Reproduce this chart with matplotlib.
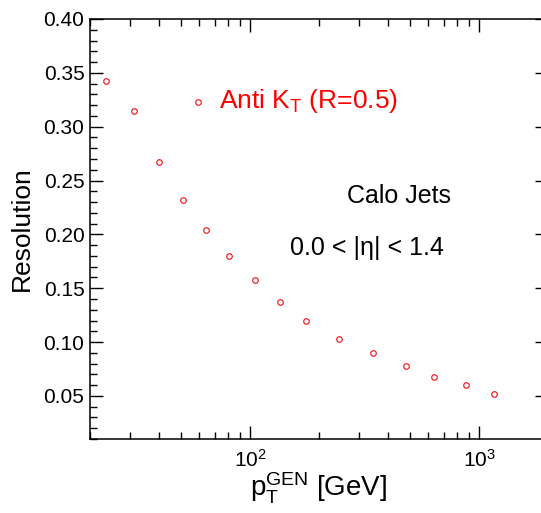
import numpy as np
import matplotlib
matplotlib.use("Agg")
import matplotlib.pyplot as plt
from matplotlib.ticker import MultipleLocator, LogLocator, NullFormatter

# anti-kT R=0.5 calo jet resolution vs generated pT
pt = [23.5, 31, 40, 51, 64, 81, 105, 135, 175, 245, 345, 480, 638, 881, 1159]
res = [0.342, 0.3146, 0.267, 0.2318, 0.2045, 0.180, 0.158, 0.1368, 0.120,
       0.1027, 0.090, 0.0776, 0.0676, 0.060, 0.052]

XMIN, XMAX = 20, 2000
YMIN, YMAX = 0.01, 0.40

plt.rcParams["font.family"] = ["Liberation Sans", "DejaVu Sans"]
plt.rcParams["mathtext.fontset"] = "custom"
plt.rcParams["mathtext.rm"] = "Liberation Sans"
plt.rcParams["mathtext.it"] = "Liberation Sans"

fig = plt.figure(figsize=(5.41, 5.13), dpi=100)
ax = fig.add_axes([90/541, 1 - 439/513, 458/541, 420/513])

ax.plot(pt, res, ls="none", marker="o", ms=4, mfc="none", mec="#e8262a", mew=0.9)

ax.set_xscale("log")
ax.set_xlim(XMIN, XMAX)
ax.set_ylim(YMIN, YMAX)
ax.yaxis.set_major_locator(MultipleLocator(0.05))
ax.yaxis.set_minor_locator(MultipleLocator(0.01))
ax.xaxis.set_major_locator(LogLocator(base=10))
ax.xaxis.set_minor_locator(LogLocator(base=10, subs=np.arange(2, 10)))
ax.xaxis.set_minor_formatter(NullFormatter())
ax.yaxis.set_major_formatter(plt.FuncFormatter(lambda v, p: f"{v:.2f}"))

for s in ax.spines.values():
    s.set_linewidth(1.1)
ax.tick_params(which="both", direction="in", top=True, right=True, width=1.0,
               labelsize=15)
ax.tick_params(which="major", length=9.5, pad=4)
ax.tick_params(axis="x", which="major", pad=7)
ax.tick_params(which="minor", length=5)

ax.set_ylabel("Resolution", fontsize=19, labelpad=7)
ax.set_xlabel(r"p$_\mathrm{T}^\mathrm{GEN}$ [GeV]", fontsize=20, labelpad=0)

# legend entry drawn by hand, ROOT style
ax.plot([59], [0.323], ls="none", marker="o", ms=4, mfc="none", mec="#e8262a", mew=0.9)
fig.text(219/541, 1 - 101/513, r"Anti K$_\mathrm{T}$ (R=0.5)", color="#ff0000",
         fontsize=19, va="center", ha="left")
fig.text(399/541, 1 - 196/513, "Calo Jets", fontsize=18, ha="center", va="center")
fig.text(290/541, 1 - 248/513, "0.0 < |\u03b7| < 1.4", fontsize=18, ha="left", va="center")

fig.savefig("out.png", dpi=100)
